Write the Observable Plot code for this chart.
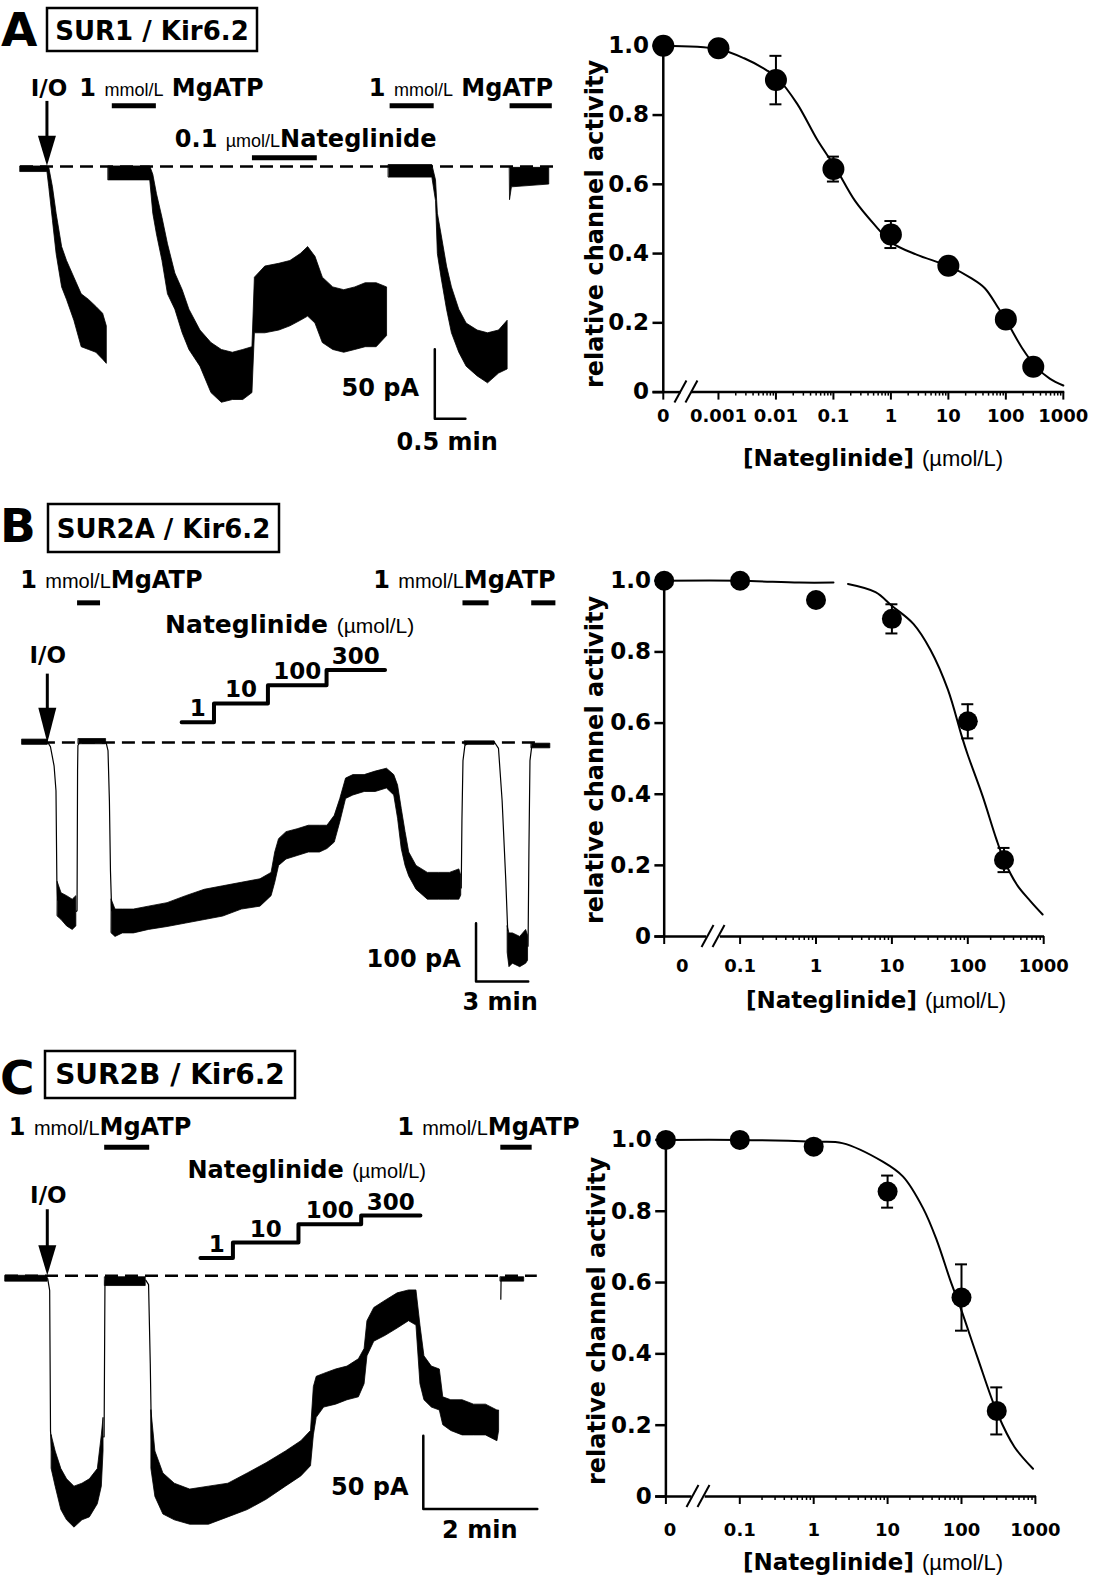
<!DOCTYPE html>
<html><head><meta charset="utf-8">
<script src="https://cdn.jsdelivr.net/npm/d3@7"></script>
<script src="https://cdn.jsdelivr.net/npm/@observablehq/plot@0.6"></script>
<style>
body{margin:0;background:#fff;}
#page{position:relative;width:1095px;height:1580px;background:#fff;overflow:hidden;}
.slot{position:absolute;}
</style></head><body><div id="page"></div>
<script>
// ===================== DATA =====================
// Current traces: time (min), current (pA, inward = negative); rows are [t, lower, upper] envelope of the noisy trace
const traceA1 = [[0,-4,0],[0.44,-4,0],[0.47,-15,-1],[0.53,-39,-15],[0.59,-63,-34],[0.68,-87,-58],[0.76,-96,-68],[0.88,-111,-80],[1.00,-130,-92],[1.12,-132,-96],[1.24,-134,-101],[1.35,-139,-106],[1.41,-142,-115]];
const traceA2 = [[1.44,-10,0],[2.12,-10,0],[2.17,-34,-6],[2.23,-49,-20],[2.32,-68,-37],[2.41,-92,-56],[2.53,-103,-77],[2.65,-120,-89],[2.76,-132,-103],[2.94,-144,-118],[3.12,-163,-127],[3.29,-170,-132],[3.47,-168,-134],[3.64,-168,-132],[3.79,-163,-130],[3.83,-120,-80],[4.00,-120,-72],[4.23,-118,-70],[4.41,-115,-68],[4.58,-111,-63],[4.70,-108,-58],[4.82,-113,-65],[4.94,-127,-80],[5.11,-132,-87],[5.29,-134,-89],[5.47,-132,-87],[5.64,-130,-84],[5.82,-130,-84],[5.99,-122,-87]];
const traceA3 = [[6.02,-8,1],[6.73,-8,1],[6.79,-25,-10],[6.82,-63,-34],[6.88,-80,-49],[6.97,-103,-72],[7.05,-120,-87],[7.17,-134,-103],[7.29,-144,-113],[7.47,-151,-118],[7.64,-156,-120],[7.82,-149,-118],[7.96,-146,-111]];
const traceA4 = [[8.00,-24,-1],[8.03,-15,-1],[8.64,-13,-1]];
const mgATP_A = [[1.50,2.22],[6.04,6.76],[8.00,8.69]];
const nateg_A = [[3.79,4.85]];

const traceB0 = [[0.11,-4,5],[1.57,-4,5]];
const traceB1 = [[2.14,-299,-240],[2.36,-305,-259],[2.68,-316,-264],[3.00,-322,-270],[3.21,-316,-264]];
const traceB2 = [[3.35,-3,6],[4.92,-3,6]];
const traceB3 = [[5.24,-328,-270],[5.46,-334,-287],[5.88,-328,-287],[6.52,-328,-287],[7.38,-322,-282],[8.45,-317,-276],[9.52,-311,-264],[10.59,-305,-253],[11.65,-299,-247],[12.72,-287,-241],[13.79,-282,-235],[14.43,-264,-224],[14.64,-241,-189],[14.86,-212,-166],[15.29,-201,-154],[15.93,-195,-149],[16.57,-189,-143],[17.21,-189,-143],[17.64,-183,-143],[18.06,-172,-126],[18.38,-137,-97],[18.71,-97,-62],[19.13,-91,-56],[19.78,-85,-56],[20.41,-85,-50],[21.06,-79,-45],[21.48,-91,-56],[21.70,-131,-74],[21.91,-183,-114],[22.13,-212,-154],[22.34,-230,-189],[22.76,-253,-212],[23.41,-270,-224],[24.04,-270,-224],[24.68,-270,-224],[25.22,-270,-218],[25.33,-263,-229]];
const traceB4 = [[25.54,-4,2],[27.25,-4,2]];
const traceB5 = [[28.00,-362,-316],[28.10,-386,-328],[28.30,-380,-328],[28.72,-386,-334],[29.06,-380,-322],[29.17,-375,-332]];
const traceB6 = [[29.38,-10,-2],[30.45,-10,-2]];
const fastB = [
  [[1.57,0],[1.72,-7],[1.93,-40],[2.04,-83],[2.09,-237],[2.14,-271]],
  [[3.21,-290],[3.25,-289],[3.28,-48],[3.30,-5],[3.39,0]],
  [[4.92,0],[5.03,-14],[5.11,-100],[5.17,-220],[5.24,-289]],
  [[25.33,-250],[25.37,-134],[25.43,-31],[25.54,-5],[25.75,0]],
  [[27.25,0],[27.47,-10],[27.68,-100],[27.89,-237],[28.00,-323]],
  [[29.17,-350],[29.22,-185],[29.28,-31],[29.38,-7],[29.48,-3]]
];
const mgATP_B = [[3.28,4.60],[25.43,26.93],[29.38,30.77]];
const nateg_B = [[1,9.26,11.12],[10,11.12,14.22],[100,14.22,17.59],[300,17.59,20.95]]; // [µmol/L, start, end]

const traceC0 = [[0,-4,0],[0.74,-4,0]];
const traceC1 = [[0.81,-132,-109],[0.88,-144,-120],[0.98,-160,-132],[1.08,-167,-139],[1.21,-172,-144],[1.35,-167,-142],[1.48,-165,-139],[1.62,-156,-132],[1.69,-144,-109],[1.72,-120,-97]];
const traceC2 = [[1.75,-7,-1],[2.46,-7,-1]];
const traceC3 = [[2.56,-132,-92],[2.63,-151,-120],[2.77,-163,-135],[2.97,-167,-142],[3.24,-170,-146],[3.57,-170,-144],[3.91,-165,-142],[4.25,-160,-135],[4.58,-153,-128],[4.92,-144,-120],[5.19,-137,-113],[5.36,-130,-106],[5.41,-109,-76],[5.46,-97,-69],[5.59,-90,-67],[5.80,-88,-64],[6.00,-85,-62],[6.20,-83,-57],[6.30,-74,-50],[6.35,-55,-31],[6.47,-45,-22],[6.67,-41,-17],[6.88,-36,-12],[7.08,-31,-10],[7.21,-34,-10],[7.28,-74,-34],[7.35,-85,-55],[7.48,-90,-62],[7.62,-92,-64],[7.68,-102,-83],[7.82,-106,-85],[8.02,-109,-85],[8.22,-109,-88],[8.43,-109,-88],[8.63,-113,-92],[8.66,-106,-92]];
const traceC4 = [[8.69,-4,-1],[9.10,-4,-1]];
const fastC = [
  [[0.74,-2],[0.775,-10],[0.79,-106],[0.81,-119]],
  [[1.72,-110],[1.73,-110],[1.74,-40],[1.745,-5],[1.75,-3]],
  [[2.46,-3],[2.51,-6],[2.54,-60],[2.56,-110],[2.60,-140]],
  [[8.69,-16],[8.695,-2]]
];
const mgATP_C = [[1.74,2.53],[8.69,9.24]];
const nateg_C = [[1,3.42,3.99],[10,3.99,5.14],[100,5.14,6.24],[300,6.24,7.28]];

// Concentration-response data: [Nateglinide] (µmol/L), relative channel activity, SEM
const concA = [0, 0.001, 0.01, 0.1, 1, 10, 100, 300];
const actA  = [1.0, 0.993, 0.901, 0.644, 0.455, 0.365, 0.21, 0.073];
const semA  = [0, 0, 0.07, 0.036, 0.039, 0, 0, 0];
const fitA_c = [0, 0.001, 0.0028, 0.0068, 0.0107, 0.0233, 0.053, 0.108, 0.238, 0.54, 1.04, 2.79, 10.3, 24.9, 43.1, 74.5, 100.7, 194, 336, 581, 1000];
const fitA_y = [1.0, 0.99, 0.964, 0.930, 0.906, 0.833, 0.727, 0.649, 0.552, 0.480, 0.431, 0.397, 0.363, 0.329, 0.300, 0.242, 0.208, 0.126, 0.073, 0.039, 0.019];

const concB = [0, 0.1, 1, 10, 100, 300];
const actB  = [1.0, 1.0, 0.946, 0.893, 0.605, 0.215];
const semB  = [0, 0, 0, 0.041, 0.048, 0.034];
const fitB1_c = [0, 0.1, 0.6, 1.7];
const fitB1_y = [1.0, 1.0, 0.995, 0.995];
const fitB2_c = [2.64, 6.08, 9.95, 19.2, 32.4, 54.7, 83, 99, 156, 236, 300, 442, 672, 968];
const fitB2_y = [0.991, 0.968, 0.930, 0.879, 0.805, 0.694, 0.564, 0.513, 0.396, 0.276, 0.215, 0.146, 0.099, 0.062];

const concC = [0, 0.1, 1, 10, 100, 300];
const actC  = [1.0, 1.0, 0.981, 0.855, 0.558, 0.24];
const semC  = [0, 0, 0, 0.045, 0.093, 0.066];
const fitC_c = [0, 0.1, 1, 2.43, 8.6, 16.2, 30.3, 46.2, 70.4, 99.8, 164, 308, 521, 929];
const fitC_y = [1.0, 1.0, 0.995, 0.991, 0.939, 0.897, 0.808, 0.719, 0.607, 0.522, 0.391, 0.232, 0.139, 0.078];

const yTicks = [0, 0.2, 0.4, 0.6, 0.8, 1.0];
const yTickLabels = ["0", "0.2", "0.4", "0.6", "0.8", "1.0"];
const xTicksA = [0.001, 0.01, 0.1, 1, 10, 100, 1000];
const xTickLabelsA = ["0.001", "0.01", "0.1", "1", "10", "100", "1000"];
const xTicksBC = [0.1, 1, 10, 100, 1000];
const xTickLabelsBC = ["0.1", "1", "10", "100", "1000"];

// ===================== DRAWING =====================
const FB = "DejaVu Sans, Liberation Sans, sans-serif";
const FL = "Liberation Sans, Arial, sans-serif";
const bold = (t, s = 24) => ({t, s});
const light = (t, s = 18) => ({t, s, f: FL, w: "normal"});

function rich(items) {
  return (index, scales) => {
    const g = d3.create("svg:g");
    for (const it of items) {
      const x = (it.px != null ? it.px : scales.x(it.x)) + (it.dx || 0);
      const y = (it.py != null ? it.py : scales.y(it.y)) + (it.dy || 0);
      const t = g.append("text")
        .attr("text-anchor", it.anchor || "start")
        .attr("transform", `translate(${x},${y})` + (it.rotate ? ` rotate(${it.rotate})` : ""))
        .attr("fill", "black").style("white-space", "pre");
      for (const p of it.parts) {
        t.append("tspan").attr("font-family", p.f || FB).attr("font-size", p.s)
          .attr("font-weight", p.w || "bold").text(p.t);
      }
    }
    return g.node();
  };
}

function arrowDown(t, yTop, yTip, headLen, headW) {
  return (index, s) => {
    const x = s.x(t), y0 = s.y(yTop), y1 = s.y(yTip);
    const g = d3.create("svg:g");
    g.append("line").attr("x1", x).attr("x2", x).attr("y1", y0).attr("y2", y1 - headLen + 1)
      .attr("stroke", "black").attr("stroke-width", 3);
    g.append("path").attr("d", `M${x - headW / 2},${y1 - headLen}L${x + headW / 2},${y1 - headLen}L${x},${y1}Z`).attr("fill", "black");
    return g.node();
  };
}

function axisBreak(p) {
  return (index, s) => {
    const cx = s.x(p), cy = s.y(0);
    const g = d3.create("svg:g").attr("stroke", "black").attr("stroke-width", 2);
    for (const o of [-5.5, 5.5]) g.append("line").attr("x1", cx + o - 6).attr("y1", cy + 11).attr("x2", cx + o + 6).attr("y2", cy - 11);
    return g.node();
  };
}

const page = d3.select("#page");
function place(node, left, top, w) {
  page.append("div").attr("class", "slot").style("left", left + "px").style("top", top + "px").style("width", w + "px").node().appendChild(node);
}

// overlay: panel letters & construct boxes
const ov = page.append("svg").attr("width", 1095).attr("height", 1580).style("position", "absolute").style("left", 0).style("top", 0);
const panels = [
  {L: "A", lx: 1, ly: 46, name: "SUR1 / Kir6.2", bx: 47, by: 8, bw: 210, bh: 43, fs: 26, ty: 40},
  {L: "B", lx: 0, ly: 542, name: "SUR2A / Kir6.2", bx: 48, by: 504, bw: 231, bh: 48, fs: 26, ty: 538},
  {L: "C", lx: 0, ly: 1094, name: "SUR2B / Kir6.2", bx: 45, by: 1051, bw: 250, bh: 47, fs: 28, ty: 1084}
];
for (const p of panels) {
  ov.append("text").attr("x", p.lx).attr("y", p.ly).attr("font-family", FB).attr("font-weight", "bold").attr("font-size", 47).text(p.L);
  ov.append("rect").attr("x", p.bx).attr("y", p.by).attr("width", p.bw).attr("height", p.bh).attr("fill", "none").attr("stroke", "black").attr("stroke-width", 2.5);
  ov.append("text").attr("x", p.bx + p.bw / 2).attr("y", p.ty).attr("text-anchor", "middle").attr("font-family", FB).attr("font-weight", "bold").attr("font-size", p.fs).text(p.name);
}

function tracePlot(c) {
  const marks = [];
  marks.push(Plot.ruleY([0], {x1: c.base[0], x2: c.base[1], strokeDasharray: "13,7", strokeWidth: 2.5}));
  for (const seg of c.bands) marks.push(Plot.areaY(seg, {x: d => d[0], y1: d => d[1], y2: d => d[2], fill: "black", stroke: "black", strokeWidth: 0.8}));
  if (c.fast) {
    const rows = c.fast.flatMap((seg, k) => seg.map(d => ({t: d[0], v: d[1], k})));
    marks.push(Plot.line(rows, {x: "t", y: "v", z: "k", strokeWidth: 1.2}));
  }
  marks.push(Plot.ruleY(c.mg, {x1: d => d[0], x2: d => d[1], y: c.mgY, strokeWidth: 5}));
  if (c.natBar) marks.push(Plot.ruleY(c.natBar, {x1: d => d[0], x2: d => d[1], y: c.natY, strokeWidth: 5}));
  if (c.steps) {
    const lv = c.stepLevels;
    const pts = c.steps.map((d, i) => [d[1], lv[i]]).concat([[c.steps[c.steps.length - 1][2], lv[lv.length - 1]]]);
    marks.push(Plot.line(pts, {x: d => d[0], y: d => d[1], curve: "step-after", strokeWidth: 4}));
    marks.push(Plot.text(c.steps, {x: d => (d[1] + d[2]) / 2, y: (d, i) => lv[i], text: d => String(d[0]), dy: -6, lineAnchor: "bottom", fontSize: 23, fontWeight: "bold", fontFamily: FB}));
  }
  marks.push(arrowDown(c.arrow.t, c.arrow.top, c.arrow.tip, c.arrow.head, 18));
  const sb = c.scale;
  marks.push(Plot.line([[sb.t, sb.y + sb.dI], [sb.t, sb.y], [sb.t + sb.dt, sb.y]], {x: d => d[0], y: d => d[1], strokeWidth: 2.5}));
  marks.push(rich(c.labels));
  return Plot.plot({
    width: c.w, height: c.h, marginTop: 0, marginRight: 0, marginBottom: 0, marginLeft: 0,
    x: {domain: c.xd, axis: null, label: null}, y: {domain: c.yd, axis: null, label: null},
    style: {background: "transparent", overflow: "visible"},
    marks
  });
}

// ---- Panel A trace ----
place(tracePlot({
  w: 560, h: 480, xd: [-0.327, 8.824], yd: [-225.9, 119.4],
  base: [0, 8.72], bands: [traceA1, traceA2, traceA3, traceA4],
  mg: mgATP_A, mgY: 43.6, natBar: nateg_A, natY: 6.2,
  arrow: {t: 0.44, top: 46.8, tip: 0.2, head: 30},
  scale: {t: 6.77, y: -181.5, dI: 50, dt: 0.5},
  labels: [
    {x: 0.176, y: 50.4, parts: [bold("I/O", 23)]},
    {x: 0.97, y: 50.4, parts: [bold("1 "), light("mmol/L"), bold(" MgATP")]},
    {x: 5.70, y: 50.4, parts: [bold("1 "), light("mmol/L"), bold(" MgATP")]},
    {x: 2.53, y: 13.3, parts: [bold("0.1 "), light("µmol/L"), bold("Nateglinide")]},
    {x: 6.52, y: -165.3, anchor: "end", parts: [bold("50 pA")]},
    {x: 6.98, y: -204.6, anchor: "middle", parts: [bold("0.5 min")]}
  ]
}), 0, 0, 560);

// ---- Panel B trace ----
place(tracePlot({
  w: 580, h: 535, xd: [-1.149, 32.184], yd: [-494.8, 424.4],
  base: [0.11, 29.66], bands: [traceB0, traceB1, traceB2, traceB3, traceB4, traceB5, traceB6], fast: fastB,
  mg: mgATP_B, mgY: 240, steps: nateg_B, stepLevels: [34.7, 67.2, 98.3, 124.4],
  arrow: {t: 1.57, top: 117.5, tip: -1.2, head: 35},
  scale: {t: 26.18, y: -410.6, dI: 100, dt: 3},
  labels: [
    {x: 0.01, y: 264.9, parts: [bold("1 "), light("mmol/L", 20), bold("MgATP")]},
    {x: 20.3, y: 264.9, parts: [bold("1 "), light("mmol/L", 20), bold("MgATP")]},
    {x: 8.34, y: 187.3, parts: [bold("Nateglinide ", 25), light("(µmol/L)", 21)]},
    {x: 0.55, y: 134.9, parts: [bold("I/O", 23)]},
    {x: 25.33, y: -385.9, anchor: "end", parts: [bold("100 pA")]},
    {x: 27.6, y: -460.4, anchor: "middle", parts: [bold("3 min")]}
  ]
}), 0, 495, 580);

// ---- Panel C trace ----
place(tracePlot({
  w: 600, h: 545, xd: [-0.0877, 10.439], yd: [-208.1, 164.1],
  base: [0, 9.33], bands: [traceC0, traceC1, traceC2, traceC3, traceC4], fast: fastC,
  mg: mgATP_C, mgY: 87.8, steps: nateg_C, stepLevels: [12.2, 22.7, 35.2, 41.1],
  arrow: {t: 0.742, top: 45.1, tip: 0, head: 30},
  scale: {t: 7.33, y: -159.2, dI: 50, dt: 2},
  labels: [
    {x: 0.068, y: 95.5, parts: [bold("1 "), light("mmol/L", 20), bold("MgATP")]},
    {x: 6.88, y: 95.5, parts: [bold("1 "), light("mmol/L", 20), bold("MgATP")]},
    {x: 3.20, y: 66.2, parts: [bold("Nateglinide ", 24), light("(µmol/L)", 20)]},
    {x: 0.44, y: 49.7, parts: [bold("I/O", 23)]},
    {x: 7.08, y: -149.8, anchor: "end", parts: [bold("50 pA")]},
    {x: 8.33, y: -179.1, anchor: "middle", parts: [bold("2 min")]}
  ]
}), 0, 1035, 600);

// ---- Concentration-response plots ----
function dosePlot(c) {
  const pos = v => v === 0 ? c.pos0 : Math.log10(v);
  const pts = c.conc.map((v, i) => ({x: pos(v), y: c.act[i], e: c.sem[i]}));
  const err = pts.filter(d => d.e > 0);
  const cap = 6 / c.decadePx;
  const minors = [];
  for (let k = c.minorFrom; k < c.minorTo; k++) for (let m = 2; m <= 9; m++) minors.push(k + Math.log10(m));
  const gap = (c.pos0 - c.xd[0]) * c.decadePx;
  const marks = [];
  for (const f of c.fits) marks.push(Plot.line(f.c.map((v, i) => ({x: pos(v), y: f.y[i]})), {x: "x", y: "y", curve: "catmull-rom", strokeWidth: 2}));
  marks.push(
    Plot.ruleX(err, {x: "x", y1: d => d.y - d.e, y2: d => d.y + d.e, strokeWidth: 2}),
    Plot.ruleY(err, {y: d => d.y + d.e, x1: d => d.x - cap, x2: d => d.x + cap, strokeWidth: 2}),
    Plot.ruleY(err, {y: d => d.y - d.e, x1: d => d.x - cap, x2: d => d.x + cap, strokeWidth: 2}),
    Plot.dot(pts, {x: "x", y: "y", r: c.r, fill: "black"}),
    Plot.ruleX([c.pos0], {y1: 0, y2: 1.01, strokeWidth: 2.5}),
    Plot.ruleY([0], {x1: c.xd[0], x2: c.brk - 0.09, strokeWidth: 2.5}),
    Plot.ruleY([0], {x1: c.brk + 0.09, x2: c.xd[1], strokeWidth: 2.5}),
    axisBreak(c.brk),
    Plot.axisX({ticks: [c.pos0, ...c.ticks.map(pos)], tickFormat: () => "", tickSize: 8, strokeWidth: 2, label: null}),
    Plot.axisX({ticks: minors, tickFormat: () => "", tickSize: 4, strokeWidth: 1.5, label: null}),
    Plot.text(c.ticks, {x: v => pos(v), y: 0, text: (v, i) => c.tickLabels[i], dy: c.labelDy, lineAnchor: "middle", fontSize: 18, fontWeight: "bold", fontFamily: FB}),
    Plot.text(["0"], {x: c.pos0, y: 0, text: d => d, dx: c.zeroDx, dy: c.labelDy, lineAnchor: "middle", fontSize: 18, fontWeight: "bold", fontFamily: FB}),
    Plot.axisY({ticks: yTicks, tickFormat: (d) => yTickLabels[yTicks.indexOf(d)], tickSize: gap, dx: gap, tickPadding: 4, strokeWidth: 2.5, fontSize: 23, fontWeight: "bold", fontFamily: FB, label: null}),
    rich([
      {px: c.ytx, py: c.yty, rotate: -90, anchor: "middle", parts: [bold("relative channel activity", 24)]},
      {px: c.xtx, py: c.xty, anchor: "middle", parts: [bold("[Nateglinide] ", 23), light("(µmol/L)", 22)]}
    ])
  );
  return Plot.plot({
    width: 535, height: c.h, marginTop: c.mt, marginBottom: c.mb, marginLeft: c.ml, marginRight: c.mr,
    x: {domain: c.xd, axis: null, label: null}, y: {domain: [0, 1], axis: null, label: null},
    style: {background: "transparent", overflow: "visible", fontFamily: FB},
    marks
  });
}

place(dosePlot({
  conc: concA, act: actA, sem: semA, fits: [{c: fitA_c, y: fitA_y}],
  pos0: -3.96, xd: [-4.139, 3.024], decadePx: 57.5, brk: -3.557, r: 11,
  ticks: xTicksA, tickLabels: xTickLabelsA, minorFrom: -3, minorTo: 3, zeroDx: 0, labelDy: 24,
  h: 470, mt: 25.3, mb: 98.4, ml: 92.5, mr: 30.8,
  ytx: 43, yty: 204, xtx: 313, xty: 446
}), 560, 20, 535);

place(dosePlot({
  conc: concB, act: actB, sem: semB, fits: [{c: fitB1_c, y: fitB1_y}, {c: fitB2_c, y: fitB2_y}],
  pos0: -2.0, xd: [-2.1225, 3.0105], decadePx: 75.9, brk: -1.35, r: 10,
  ticks: xTicksBC, tickLabels: xTickLabelsBC, minorFrom: -1, minorTo: 3, zeroDx: 18, labelDy: 30,
  h: 500, mt: 50.3, mb: 94, ml: 94.4, mr: 51,
  ytx: 43, yty: 230, xtx: 316, xty: 478
}), 560, 530, 535);

place(dosePlot({
  conc: concC, act: actC, sem: semC, fits: [{c: fitC_c, y: fitC_y}],
  pos0: -2.0, xd: [-2.138, 3.015], decadePx: 73.9, brk: -1.559, r: 10,
  ticks: xTicksBC, tickLabels: xTickLabelsBC, minorFrom: -1, minorTo: 3, zeroDx: 4, labelDy: 34,
  h: 490, mt: 49.4, mb: 84, ml: 95.2, mr: 59,
  ytx: 45, yty: 231, xtx: 313, xty: 480
}), 560, 1090, 535);
</script></body></html>
